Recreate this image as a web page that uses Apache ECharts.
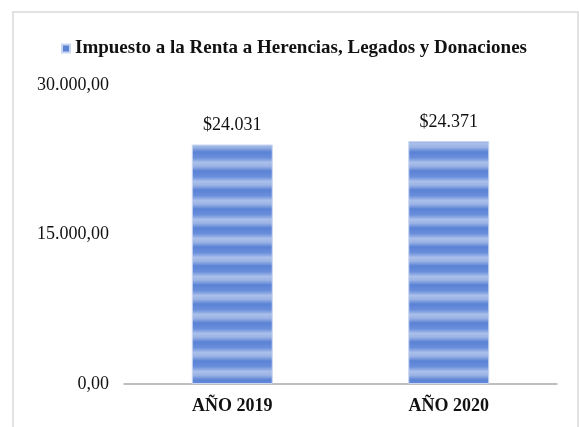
<!DOCTYPE html>
<html lang="es">
<head>
	<meta charset="UTF-8">
	<title>Impuesto a la Renta a Herencias</title>
	<script src="https://cdn.jsdelivr.net/npm/echarts@6/dist/echarts.min.js"></script>
	<style>
		html, body { margin: 0; padding: 0; background: #fff; }
	</style>
</head>
<body>
	<div id="main" style="width: 579px; height: 427px;"></div>
	<script type="text/javascript">
	var categories = ['AÑO 2019', 'AÑO 2020'];
	var values = [24031, 24371];
	var seriesName = 'Impuesto a la Renta a Herencias, Legados y Donaciones';
	var yTicks = [0, 15000, 30000];

	// striped fill like the original (horizontal bands)
	var tile = document.createElement('canvas');
	tile.width = 4;
	tile.height = 19;
	var ctx = tile.getContext('2d');
	var g = ctx.createLinearGradient(0, 0, 0, 19);
	g.addColorStop(0, '#5a82d5');
	g.addColorStop(0.3, '#6a8edb');
	g.addColorStop(0.55, '#aabfea');
	g.addColorStop(0.75, '#9bb3e5');
	g.addColorStop(1, '#5a82d5');
	ctx.fillStyle = g;
	ctx.fillRect(0, 0, 4, 19);

	function thousands(n) {
		return String(Math.round(n)).replace(/\B(?=(\d{3})+(?!\d))/g, '.');
	}

	var font = 'Liberation Serif';
	var chart = echarts.init(document.getElementById('main'));
	chart.setOption({
		animation: false,
		textStyle: { fontFamily: font },
		graphic: [{
			type: 'rect',
			shape: { x: 13, y: 12, width: 565, height: 440 },
			style: { fill: 'none', stroke: '#d9d9d9', lineWidth: 1.5 },
			silent: true
		}],
		legend: {
			data: [seriesName],
			top: 34,
			left: 56,
			itemWidth: 8,
			itemHeight: 8,
			itemGap: 4,
			icon: 'rect',
			textStyle: { fontFamily: font, fontSize: 19, fontWeight: 'bold', color: '#111' },
			itemStyle: { color: '#5a82d5' }
		},
		grid: { left: 124, right: 22, top: 85, bottom: 43 },
		xAxis: {
			type: 'category',
			data: categories,
			axisLine: { lineStyle: { color: '#aaa', width: 1.5 } },
			axisTick: { show: false },
			axisLabel: { fontFamily: font, fontSize: 18, fontWeight: 'bold', color: '#111', margin: 13 }
		},
		yAxis: {
			type: 'value',
			min: yTicks[0],
			max: yTicks[2],
			interval: yTicks[1] - yTicks[0],
			splitLine: { show: false },
			axisLabel: {
				fontFamily: font, fontSize: 18, color: '#111', margin: 15,
				formatter: function (v) { return thousands(v) + ',00'; }
			}
		},
		series: [{
			name: seriesName,
			type: 'bar',
			data: values,
			barWidth: 81,
			itemStyle: {
				color: { image: tile, repeat: 'repeat' },
				borderColor: '#c9d6f1',
				borderWidth: 1
			},
			label: {
				show: true,
				position: 'top',
				distance: 10,
				fontFamily: font,
				fontSize: 18,
				color: '#111',
				formatter: function (p) { return '$' + thousands(p.value); }
			}
		}]
	});
	</script>
</body>
</html>
